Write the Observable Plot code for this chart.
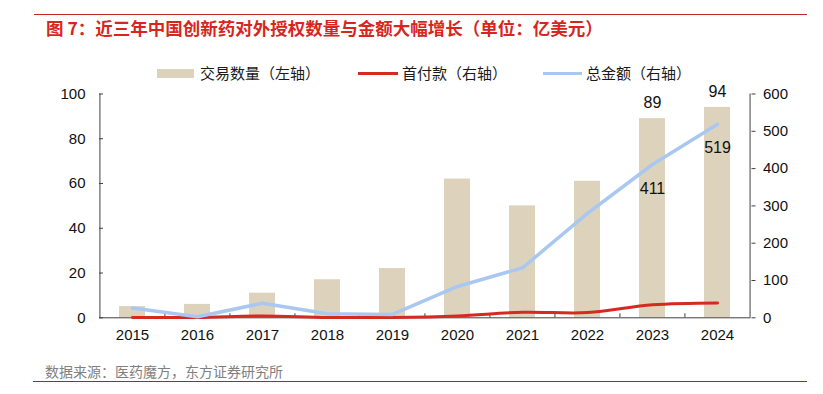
<!DOCTYPE html>
<html>
<head>
<meta charset="utf-8">
<script src="https://cdn.jsdelivr.net/npm/d3@7"></script>
<script src="https://cdn.jsdelivr.net/npm/@observablehq/plot@0.6"></script>
<style>
  html, body { margin: 0; padding: 0; background: #fff; }
  body { width: 823px; height: 394px; position: relative; overflow: hidden;
         font-family: "Liberation Sans", "Noto Sans CJK SC", sans-serif; }
  .abs { position: absolute; }
  #topline { left: 34px; top: 14px; width: 773px; height: 0; border-top: 1.5px solid #C0282A; }
  #title { left: 46px; top: 17px; font-family: "Noto Sans CJK SC", sans-serif; font-weight: bold;
           font-size: 17.5px; color: #D7261E; white-space: nowrap; line-height: 22px; }
  #legend { left: 0; top: 63px; width: 823px; height: 20px; font-family: "Noto Sans CJK SC", sans-serif;
            font-size: 15px; color: #1a1a1a; }
  .lg { position: absolute; top: 0; line-height: 20px; white-space: nowrap; }
  .sw { position: absolute; }
  #chart { left: 0; top: 75px; }
  #chart svg { overflow: visible; }
  #source { left: 45px; top: 361px; font-family: "Noto Sans CJK SC", sans-serif; font-size: 14px;
            color: #808080; white-space: nowrap; line-height: 20px; }
  #botline { left: 33px; top: 381px; width: 774px; height: 0; border-top: 1px solid #A8282A; }
</style>
</head>
<body>
<div id="topline" class="abs"></div>
<div id="title" class="abs">图 7：近三年中国创新药对外授权数量与金额大幅增长（单位：亿美元）</div>
<div id="legend" class="abs"></div>
<div id="chart" class="abs"></div>
<div id="source" class="abs">数据来源：医药魔方，东方证券研究所</div>
<div id="botline" class="abs"></div>
<script>
// ---- data ----
const years = ["2015","2016","2017","2018","2019","2020","2021","2022","2023","2024"];
const dealCount = [5, 6, 11, 17, 22, 62, 50, 61, 89, 94];          // 交易数量（左轴）
const upfront   = [1, 1, 5, 1, 1, 5, 15, 14, 35, 40];              // 首付款（右轴，亿美元）
const totalAmt  = [26, 3, 39, 11, 9, 84, 134, 280, 411, 519];      // 总金额（右轴，亿美元）
const leftTicks = [0, 20, 40, 60, 80, 100];
const rightTicks = [0, 100, 200, 300, 400, 500, 600];
const countLabelYears = ["2023", "2024"];
const totalLabelYears = ["2023", "2024"];
const seriesNames = ["交易数量（左轴）", "首付款（右轴）", "总金额（右轴）"];

const colors = { bar: "#DDD3BC", red: "#D62A20", blue: "#A9C8F1", axis: "#404040" };

// ---- legend ----
const legend = document.getElementById("legend");
const legendItems = [
  { name: seriesNames[0], type: "rect", color: colors.bar, sx: 157, sw: 37, tx: 200 },
  { name: seriesNames[1], type: "line", color: colors.red, sx: 358, sw: 40, tx: 402 },
  { name: seriesNames[2], type: "line", color: colors.blue, sx: 543, sw: 39, tx: 586 }
];
for (const it of legendItems) {
  const sw = document.createElement("div");
  sw.className = "sw";
  sw.style.left = it.sx + "px";
  sw.style.width = it.sw + "px";
  sw.style.background = it.color;
  if (it.type === "rect") { sw.style.top = "6px"; sw.style.height = "9px"; }
  else { sw.style.top = "9px"; sw.style.height = "3px"; }
  legend.appendChild(sw);
  const t = document.createElement("div");
  t.className = "lg";
  t.style.left = it.tx + "px";
  t.textContent = it.name;
  legend.appendChild(t);
}

// ---- chart ----
const rows = years.map((y, i) => ({ year: y, count: dealCount[i], up: upfront[i] / 6, total: totalAmt[i] / 6, totalRaw: totalAmt[i] }));
const width = 823, height = 275;
const marginLeft = 99, marginRight = 72.5, marginTop = 18.5, marginBottom = 32.7;
const step = (width - marginLeft - marginRight) / years.length;
const tickH = 4 / (height - marginTop - marginBottom) * 100;

const chart = Plot.plot({
  width, height, marginLeft, marginRight, marginTop, marginBottom,
  style: { fontFamily: "Liberation Sans, Arial, sans-serif", fontSize: "15px", color: "#111", background: "transparent", overflow: "visible" },
  x: { domain: years, paddingInner: 0.6, paddingOuter: 0.3, label: null },
  y: { domain: [0, 100], label: null },
  marks: [
    Plot.barY(rows, { x: "year", y: "count", fill: colors.bar }),
    // axes lines
    Plot.ruleY([0], { stroke: colors.axis, strokeWidth: 1 }),
    Plot.ruleX([years[0]], { dx: -step / 2, y1: 0, y2: 100, stroke: colors.axis, strokeWidth: 1 }),
    Plot.ruleX([years[years.length - 1]], { dx: step / 2, y1: 0, y2: 100, stroke: colors.axis, strokeWidth: 1 }),
    // x boundary ticks
    Plot.ruleX(years.slice(1), { x: d => d, dx: -step / 2, y1: 0, y2: tickH, stroke: colors.axis, strokeWidth: 1 }),
    Plot.axisX({ tickSize: 0, tickPadding: 12, fontSize: 15 }),
    Plot.axisY({ anchor: "left", ticks: leftTicks, tickSize: -4, tickPadding: 18, stroke: colors.axis, fontSize: 15 }),
    Plot.axisY({ anchor: "right", ticks: rightTicks.map(v => v / 6), tickFormat: d => Math.round(d * 6), tickSize: 4, tickPadding: 8, stroke: colors.axis, fontSize: 15 }),
    // lines
    Plot.lineY(rows, { x: "year", y: "up", stroke: colors.red, strokeWidth: 3, curve: "cardinal" }),
    Plot.lineY(rows, { x: "year", y: "total", stroke: colors.blue, strokeWidth: 3.5 }),
    // labels
    Plot.text(rows.filter(d => countLabelYears.includes(d.year)), { x: "year", y: "count", text: d => String(d.count), dy: -16, fontSize: 16, fill: "#111" }),
    Plot.text(rows.filter(d => totalLabelYears.includes(d.year)), { x: "year", y: "total", text: d => String(d.totalRaw), dy: 24, fontSize: 16, fill: "#111" })
  ]
});
document.getElementById("chart").appendChild(chart);
</script>
</body>
</html>
